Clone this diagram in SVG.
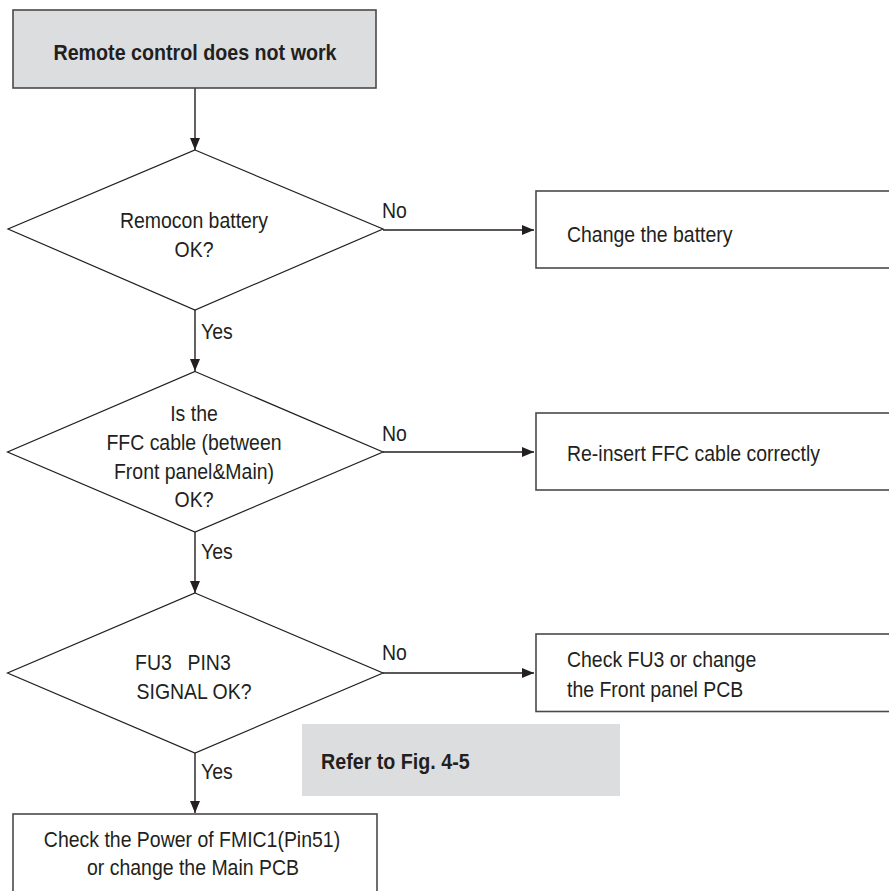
<svg xmlns="http://www.w3.org/2000/svg" width="889" height="891" viewBox="0 0 889 891">
<style>
  text { font-family: "Liberation Sans", Arial, sans-serif; font-size: 21.5px; fill: #231f20; }
  .b { font-weight: bold; font-size: 22.5px; }
  .c { text-anchor: middle; }
  .box { fill: #ffffff; stroke: #4a4a4a; stroke-width: 1.6; }
  .gray { fill: #dcdddf; }
  .dia { fill: #ffffff; stroke: #231f20; stroke-width: 1.2; }
  .conn { stroke: #231f20; stroke-width: 1.4; fill: none; marker-end: url(#arr); }
</style>
<defs>
  <marker id="arr" viewBox="0 0 12 10" refX="12" refY="5" markerWidth="12" markerHeight="10" markerUnits="userSpaceOnUse" orient="auto">
    <path d="M0,0 L12,5 L0,10 Z" fill="#231f20"/>
  </marker>
</defs>
<rect width="889" height="891" fill="#ffffff"/>

<g id="connectors">
  <line class="conn" x1="195" y1="88" x2="195" y2="150"/>
  <line class="conn" x1="383" y1="230" x2="534" y2="230"/>
  <line class="conn" x1="195" y1="310" x2="195" y2="371"/>
  <line class="conn" x1="383" y1="452" x2="534" y2="452"/>
  <line class="conn" x1="195" y1="532" x2="195" y2="593"/>
  <line class="conn" x1="383" y1="673" x2="534" y2="673"/>
  <line class="conn" x1="195" y1="753" x2="195" y2="813"/>
  <text transform="translate(382,218) scale(0.905 1)">No</text>
  <text transform="translate(201,339) scale(0.905 1)">Yes</text>
  <text transform="translate(382,441) scale(0.905 1)">No</text>
  <text transform="translate(201,559) scale(0.905 1)">Yes</text>
  <text transform="translate(382,660) scale(0.905 1)">No</text>
  <text transform="translate(201,779) scale(0.905 1)">Yes</text>
</g>

<g id="start">
  <rect x="13" y="10" width="363" height="78" class="box gray"/>
  <text class="b c" transform="translate(195,60) scale(0.875 1)">Remote control does not work</text>
</g>

<g id="d1">
  <polygon class="dia" points="195,150 383,229 195,310 8,229"/>
  <text class="c" transform="translate(194,228) scale(0.905 1)">Remocon battery</text>
  <text class="c" transform="translate(194,257) scale(0.905 1)">OK?</text>
</g>

<g id="b1">
  <rect class="box" x="536" y="191" width="360" height="77"/>
  <text transform="translate(567,242) scale(0.905 1)">Change the battery</text>
</g>

<g id="d2">
  <polygon class="dia" points="195,371.5 383,452 195,532 7.5,452"/>
  <text class="c" transform="translate(194,421) scale(0.905 1)">Is the</text>
  <text class="c" transform="translate(194,450) scale(0.905 1)">FFC cable (between</text>
  <text class="c" transform="translate(194,479) scale(0.905 1)">Front panel&amp;Main)</text>
  <text class="c" transform="translate(194,507) scale(0.905 1)">OK?</text>
</g>

<g id="b2">
  <rect class="box" x="536" y="413" width="360" height="77"/>
  <text transform="translate(567,461) scale(0.905 1)">Re-insert FFC cable correctly</text>
</g>

<g id="d3">
  <polygon class="dia" points="195,593 383,673 195,753 7.5,673"/>
  <text transform="translate(135,670) scale(0.905 1)">FU3<tspan x="58">PIN3</tspan></text>
  <text class="c" transform="translate(194,699) scale(0.905 1)">SIGNAL OK?</text>
</g>

<g id="b3">
  <rect class="box" x="536" y="634" width="360" height="77.5"/>
  <text transform="translate(567,667) scale(0.905 1)">Check FU3 or change</text>
  <text transform="translate(567,697) scale(0.905 1)">the Front panel PCB</text>
</g>

<g id="note">
  <rect class="gray" x="302" y="724" width="318" height="72"/>
  <text class="b" transform="translate(321,769) scale(0.875 1)">Refer to Fig. 4-5</text>
</g>

<g id="b4">
  <rect class="box" x="13" y="814" width="364" height="90"/>
  <text class="c" transform="translate(192,847) scale(0.905 1)">Check the Power of FMIC1(Pin51)</text>
  <text class="c" transform="translate(193,875) scale(0.905 1)">or change the Main PCB</text>
</g>
</svg>
